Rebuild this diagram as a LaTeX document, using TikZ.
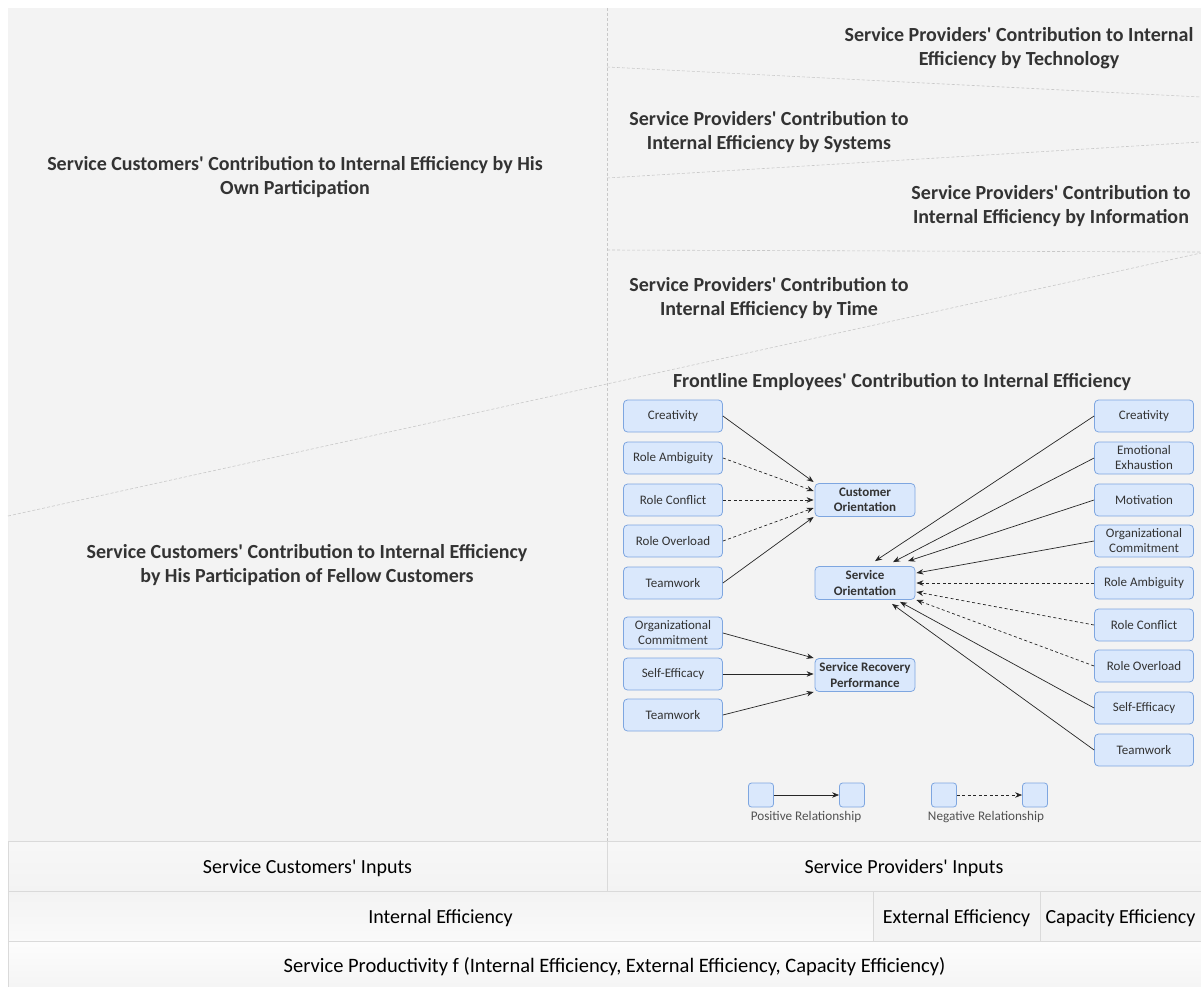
\documentclass[tikz,border=0pt]{standalone}
\usepackage{fontspec}
\setmainfont{Carlito}[Ligatures=TeXOff]
\usetikzlibrary{arrows.meta,calc}
\definecolor{panel}{HTML}{F3F3F3}
\definecolor{boxfill}{HTML}{DAE8FC}
\definecolor{boxdraw}{HTML}{7EA6E0}
\definecolor{txt}{HTML}{333333}
\definecolor{sepc}{HTML}{C8C8C8}
\definecolor{cellline}{HTML}{DADADA}
\tikzset{
  fac/.style={draw=boxdraw, fill=boxfill, rounded corners=4pt, minimum width=99pt, minimum height=32pt,
    inner sep=1pt, align=center, text=txt, font=\fontsize{13}{15}\selectfont, line width=0.8pt},
  outc/.style={fac, font=\bfseries\fontsize{13}{15.5}\selectfont, minimum width=100pt, minimum height=33pt},
  ttl/.style={align=center, text=txt, font=\bfseries\fontsize{20}{24}\selectfont, inner sep=0pt},
  posrel/.style={-{Stealth[length=7pt,width=5.5pt]}, line width=0.7pt, draw=black!85},
  negrel/.style={posrel, dash pattern=on 3pt off 2.5pt},
  sepline/.style={draw=sepc, line width=0.6pt, dash pattern=on 3pt off 2pt},
  cell/.style={draw=cellline, line width=1pt, text=black, inner sep=0pt, font=\fontsize{20}{22}\selectfont},
  celltext/.style={text=black, inner sep=0pt, font=\fontsize{20}{22}\selectfont},
  legbox/.style={draw=boxdraw, fill=boxfill, rounded corners=3pt, minimum width=25pt, minimum height=24pt, inner sep=0pt, line width=0.8pt},
  legtxt/.style={text=txt!85, font=\fontsize{13.2}{15}\selectfont, inner sep=0pt}
}
\begin{document}
\begin{tikzpicture}[x=1pt,y=-1pt]
\useasboundingbox (0,0) rectangle (1201,987);
\fill[white] (0,0) rectangle (1201,987);
\fill[panel] (8,8) rectangle (1201,841);

% separators
\draw[sepline] (607,8) -- (607,841);
\draw[sepline] (607,67) -- (1201,97);
\draw[sepline] (607,178) -- (1201,142);
\draw[sepline] (607,250) -- (1201,252);
\draw[sepline] (8,516) -- (1201,253);

% titles
\node[ttl] (tc1) at (295,177) {Service Customers' Contribution to Internal Efficiency by His\\Own Participation};
\node[ttl] (tc2) at (307,565) {Service Customers' Contribution to Internal Efficiency\\by His Participation of Fellow Customers};
\node[ttl] (tp1) at (1019,48) {Service Providers' Contribution to Internal\\Efficiency by Technology};
\node[ttl] (tp2) at (769,132) {Service Providers' Contribution to\\Internal Efficiency by Systems};
\node[ttl] (tp3) at (1051,206) {Service Providers' Contribution to\\Internal Efficiency by Information};
\node[ttl] (tp4) at (769,298) {Service Providers' Contribution to\\Internal Efficiency by Time};
\node[ttl] (tfe) at (902,382) {Frontline Employees' Contribution to Internal Efficiency};

% left column
\node[fac] (l1) at (673,416) {Creativity};
\node[fac] (l2) at (673,458) {Role Ambiguity};
\node[fac] (l3) at (673,500) {Role Conflict};
\node[fac] (l4) at (673,541) {Role Overload};
\node[fac] (l5) at (673,583) {Teamwork};
\node[fac] (l6) at (673,633) {Organizational\\Commitment};
\node[fac] (l7) at (673,674) {Self-Efficacy};
\node[fac] (l8) at (673,715) {Teamwork};

% outcomes
\node[outc] (co) at (865,500) {Customer\\Orientation};
\node[outc] (so) at (865,583) {Service\\Orientation};
\node[outc] (srp) at (865,675) {Service Recovery\\Performance};

% right column
\node[fac] (r1) at (1144,416) {Creativity};
\node[fac] (r2) at (1144,458) {Emotional\\Exhaustion};
\node[fac] (r3) at (1144,500) {Motivation};
\node[fac] (r4) at (1144,541) {Organizational\\Commitment};
\node[fac] (r5) at (1144,583) {Role Ambiguity};
\node[fac] (r6) at (1144,625) {Role Conflict};
\node[fac] (r7) at (1144,666) {Role Overload};
\node[fac] (r8) at (1144,708) {Self-Efficacy};
\node[fac] (r9) at (1144,750) {Teamwork};

% edges to customer orientation
\draw[posrel] (l1.east) -- ($(co.west)+(-1,-18)$);
\draw[negrel] (l2.east) -- ($(co.west)+(-1,-9)$);
\draw[negrel] (l3.east) -- ($(co.west)+(-1,0)$);
\draw[negrel] (l4.east) -- ($(co.west)+(-1,8)$);
\draw[posrel] (l5.east) -- ($(co.west)+(-1,17)$);

% edges to service recovery performance
\draw[posrel] (l6.east) -- ($(srp.west)+(-1,-17)$);
\draw[posrel] (l7.east) -- ($(srp.west)+(-1,-1)$);
\draw[posrel] (l8.east) -- ($(srp.west)+(-1,17)$);

% edges to service orientation
\draw[posrel] (r1.west) -- ($(so.north)+(10,-5)$);
\draw[posrel] (r2.west) -- ($(so.north)+(28,-4)$);
\draw[posrel] (r3.west) -- ($(so.north)+(43,-5)$);
\draw[posrel] (r4.west) -- ($(so.east)+(1,-10)$);
\draw[negrel] (r5.west) -- ($(so.east)+(1,0)$);
\draw[negrel] (r6.west) -- ($(so.east)+(1,9)$);
\draw[negrel] (r7.west) -- ($(so.east)+(1,17)$);
\draw[posrel] (r8.west) -- ($(so.south)+(35,2)$);
\draw[posrel] (r9.west) -- ($(so.south)+(27,4)$);

% legend
\node[legbox] (lg1) at (761,795) {};
\node[legbox] (lg2) at (852,795) {};
\node[legbox] (lg3) at (944,795) {};
\node[legbox] (lg4) at (1035,795) {};
\draw[posrel] (lg1.east) -- (lg2.west);
\draw[negrel] (lg3.east) -- (lg4.west);
\node[legtxt] (lgt1) at (806,817) {Positive Relationship};
\node[legtxt] (lgt2) at (986,817) {Negative Relationship};

% bottom bands
\node[cell, top color=white!97!black, bottom color=panel, minimum width=599pt, minimum height=50pt] (ci) at (307.5,866) {};
\node[cell, top color=white!97!black, bottom color=panel, minimum width=594pt, minimum height=50pt] (pi) at (904,866) {};
\node[cell, top color=panel, bottom color=white!98!black, minimum width=865pt, minimum height=50pt] (ie) at (440.5,916) {};
\node[cell, fill=panel, minimum width=167pt, minimum height=50pt] (ee) at (956.5,916) {};
\node[cell, fill=panel, minimum width=161pt, minimum height=50pt] (ce) at (1120.5,916) {};
\node[cell, top color=white!99!black, bottom color=white!96!black, minimum width=1193pt, minimum height=46pt] (sp) at (604.5,964) {};
\node[celltext] (cit) at ($(ci.center)+(0,2)$) {Service Customers' Inputs};
\node[celltext] (pit) at ($(pi.center)+(0,2)$) {Service Providers' Inputs};
\node[celltext] (iet) at ($(ie.center)+(0,2)$) {Internal Efficiency};
\node[celltext] (eet) at ($(ee.center)+(0,2)$) {External Efficiency};
\node[celltext] (cet) at ($(ce.center)+(0,2)$) {Capacity Efficiency};
\node[celltext, font=\fontsize{20.5}{22}\selectfont] (spt) at ($(sp.center)+(10,3)$) {Service Productivity f (Internal Efficiency, External Efficiency, Capacity Efficiency)};
\end{tikzpicture}
\end{document}
